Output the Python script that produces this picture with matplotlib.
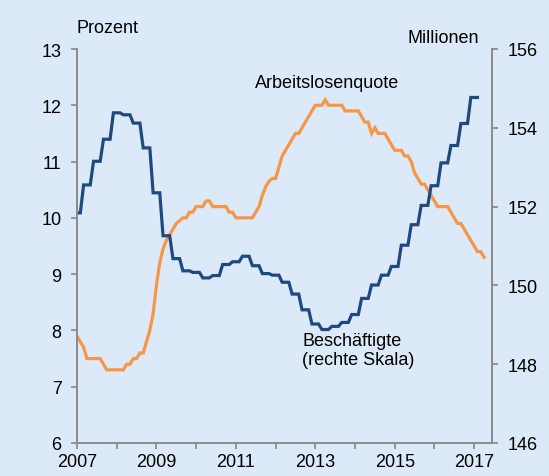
import matplotlib.pyplot as plt
import numpy as np

plt.rcParams['font.family'] = ['Liberation Sans', 'DejaVu Sans']

# Arbeitslosenquote, monthly, Jan 2007 - Apr 2017 (Prozent)
quote_2007 = [7.9, 7.8, 7.7, 7.5, 7.5, 7.5, 7.5, 7.5, 7.4, 7.3, 7.3, 7.3]
quote_2008 = [7.3, 7.3, 7.3, 7.4, 7.4, 7.5, 7.5, 7.6, 7.6, 7.8, 8.0, 8.3]
quote_2009 = [8.8, 9.2, 9.45, 9.6, 9.7, 9.8, 9.9, 9.95, 10.0, 10.0, 10.1, 10.1]
quote_2010 = [10.2, 10.2, 10.2, 10.3, 10.3, 10.2, 10.2, 10.2, 10.2, 10.2, 10.1, 10.1]
quote_2011 = [10.0, 10.0, 10.0, 10.0, 10.0, 10.0, 10.1, 10.2, 10.4, 10.55, 10.65, 10.7]
quote_2012 = [10.7, 10.9, 11.1, 11.2, 11.3, 11.4, 11.5, 11.5, 11.6, 11.7, 11.8, 11.9]
quote_2013 = [12.0, 12.0, 12.0, 12.1, 12.0, 12.0, 12.0, 12.0, 12.0, 11.9, 11.9, 11.9]
quote_2014 = [11.9, 11.9, 11.8, 11.7, 11.7, 11.5, 11.6, 11.5, 11.5, 11.5, 11.4, 11.3]
quote_2015 = [11.2, 11.2, 11.2, 11.1, 11.1, 11.0, 10.8, 10.7, 10.6, 10.6, 10.5, 10.4]
quote_2016 = [10.3, 10.2, 10.2, 10.2, 10.2, 10.1, 10.0, 9.9, 9.9, 9.8, 9.7, 9.6]
quote_2017 = [9.5, 9.4, 9.4, 9.3]

quote = (quote_2007 + quote_2008 + quote_2009 + quote_2010 + quote_2011 + quote_2012
         + quote_2013 + quote_2014 + quote_2015 + quote_2016 + quote_2017)

# Beschaeftigte, quarterly values (Millionen), shown as monthly steps
besch_q = [151.84, 152.55, 153.15, 153.71, 154.38, 154.33, 154.12, 153.49, 152.35,
           151.26, 150.68, 150.37, 150.33, 150.19, 150.25, 150.53, 150.60, 150.74,
           150.50, 150.30, 150.26, 150.08, 149.78, 149.38, 149.02, 148.88, 148.96,
           149.06, 149.26, 149.67, 150.01, 150.26, 150.48, 151.02, 151.54, 152.03,
           152.53, 153.11, 153.55, 154.11, 154.77]

besch = np.repeat(besch_q, 3)[1:]
t_quote = 2007 + np.arange(len(quote)) / 12
t_besch = 2007 + np.arange(len(besch)) / 12

bg = '#dce9f8'
orange = '#f79646'
blue = '#1f4a7f'
grey = '#8c8c8c'
fs = 13

fig = plt.figure(figsize=(5.49, 4.77), dpi=100)
fig.patch.set_facecolor(bg)
ax = fig.add_axes([77/549, 1 - 444/477, 415/549, 394/477])
ax.set_facecolor(bg)
ax2 = ax.twinx()

ax.plot(t_quote, quote, color=orange, linewidth=2.3, solid_joinstyle='miter')
ax2.plot(t_besch, besch, color=blue, linewidth=2.3, solid_joinstyle='miter')

ax.set_xlim(2007, 2017.45)
ax.set_ylim(6, 13)
ax2.set_ylim(146, 156)
ax.set_xticks(range(2007, 2018))
ax.set_xticklabels([str(y) if y % 2 == 1 else '' for y in range(2007, 2018)])
ax.set_yticks(range(6, 14))
ax2.set_yticks(range(146, 157, 2))

for a in (ax, ax2):
    a.spines['top'].set_visible(False)
    for s in ('left', 'right', 'bottom'):
        a.spines[s].set_color(grey)
        a.spines[s].set_linewidth(1.3)
    a.tick_params(colors=grey, labelcolor='black', labelsize=fs, length=4, width=1.3)
ax.tick_params(axis='y', pad=7)
ax2.tick_params(axis='y', pad=7)
ax.tick_params(axis='x', pad=3.5)

fig.text(77/549, 1 - 33/477, 'Prozent', fontsize=fs, ha='left', va='baseline')
fig.text(479/549, 1 - 42.7/477, 'Millionen', fontsize=fs, ha='right', va='baseline')
ax.text(2011.48, 12.33, 'Arbeitslosenquote', fontsize=fs, ha='left', va='baseline')
ax.text(2012.67, 7.98, 'Beschäftigte\n(rechte Skala)', fontsize=fs, ha='left', va='top')

fig.savefig('out.png', dpi=100, facecolor=bg)
